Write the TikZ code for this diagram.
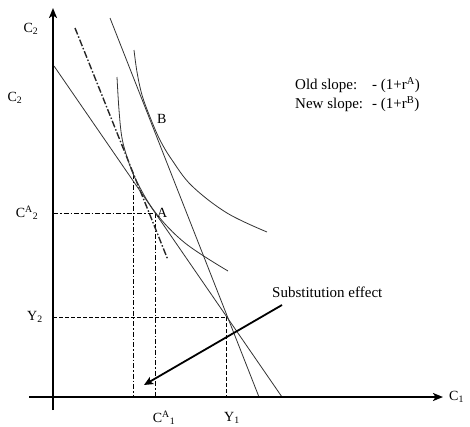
\documentclass[tikz,border=0pt]{standalone}
\usepackage{fontspec}
\setmainfont{Liberation Serif}
\usetikzlibrary{arrows.meta}
\begin{document}
\begin{tikzpicture}[x=1pt,y=-1pt,
  axis/.style={line width=1.8pt,-{Stealth[length=10pt,width=8pt,inset=2.5pt]}},
  thinline/.style={line width=0.8pt,draw=black!80},
  curve/.style={line width=0.8pt,draw=black!80},
  slopedd/.style={line width=1.4pt,draw=black!85,dash pattern=on 7pt off 2pt on 1.5pt off 2pt},
  guidedd/.style={line width=1pt,dash pattern=on 5pt off 2pt on 1.5pt off 2pt},
  guidedash/.style={line width=1pt,dash pattern=on 4pt off 2pt},
  effarrow/.style={line width=1.8pt,-{Stealth[length=9pt,width=8pt,inset=2pt]}},
  lbl/.style={font=\fontsize{14}{16}\selectfont,inner sep=0pt},
  txt/.style={font=\fontsize{15}{19}\selectfont,inner sep=0pt}]
\useasboundingbox (0,0) rectangle (470,426);
% key points
\coordinate (yb) at (53,410);
\coordinate (yt) at (53,8);
\coordinate (xl) at (29,397);
\coordinate (xr) at (443,397);
\coordinate (oldS) at (54,66);
\coordinate (oldE) at (282,397);
\coordinate (newS) at (110,18);
\coordinate (newE) at (259,397);
\coordinate (ddS) at (75,28);
\coordinate (ddE) at (168,260);
\coordinate (A) at (155,213);
\coordinate (A2) at (53,213);
\coordinate (A1) at (155,397);
\coordinate (T) at (133,174);
\coordinate (T1) at (133,397);
\coordinate (Y) at (227,317);
\coordinate (Y2) at (53,317);
\coordinate (Y1) at (226,397);
\coordinate (arrS) at (282,305);
\coordinate (arrE) at (144,385);
% guides
\draw[guidedd] (A2) -- (A);
\draw[guidedd] (A) -- (A1);
\draw[guidedd] (T) -- (T1);
\draw[guidedash] (Y2) -- (Y);
\draw[guidedash] (226,317) -- (Y1);
% budget lines
\draw[thinline] (oldS) -- (oldE);
\draw[thinline] (newS) -- (newE);
\draw[slopedd] (ddS) -- (ddE);
% indifference curves
\draw[curve] plot[smooth,tension=0.6] coordinates {(117,77) (119,110) (122,138) (128,160) (136,180) (155,212) (185,243) (228,271)};
\draw[curve] plot[smooth,tension=0.6] coordinates {(134,50) (137,72) (142,95) (150,117) (160,140) (172,160) (192,186) (227,213) (267,232)};
% axes
\draw[axis] (yb) -- (yt);
\draw[axis] (xl) -- (xr);
% arrow
\draw[effarrow] (arrS) -- (arrE);
% labels
\node[lbl] (lc2a) at (31,29) {C\textsubscript{2}};
\node[lbl] (lc2b) at (15,98) {C\textsubscript{2}};
\node[lbl] (lca2) at (27,213) {C\textsuperscript{A}\textsubscript{2}};
\node[lbl] (ly2) at (35,317) {Y\textsubscript{2}};
\node[lbl] (lca1) at (164,418) {C\textsuperscript{A}\textsubscript{1}};
\node[lbl] (ly1) at (232,418) {Y\textsubscript{1}};
\node[lbl,anchor=west] (lc1) at (449,397) {C\textsubscript{1}};
\node[lbl,anchor=west] (lA) at (157,213) {A};
\node[lbl,anchor=west] (lB) at (157,119) {B};
\node[txt,anchor=west] (sub) at (272,292) {Substitution effect};
\node[txt,anchor=north west] (slopes) at (295,76) {\begin{tabular}{@{}l@{\hspace{9pt}}l@{}}Old slope: & - (1+r\textsuperscript{A})\\ New slope: & - (1+r\textsuperscript{B})\end{tabular}};
\end{tikzpicture}
\end{document}
